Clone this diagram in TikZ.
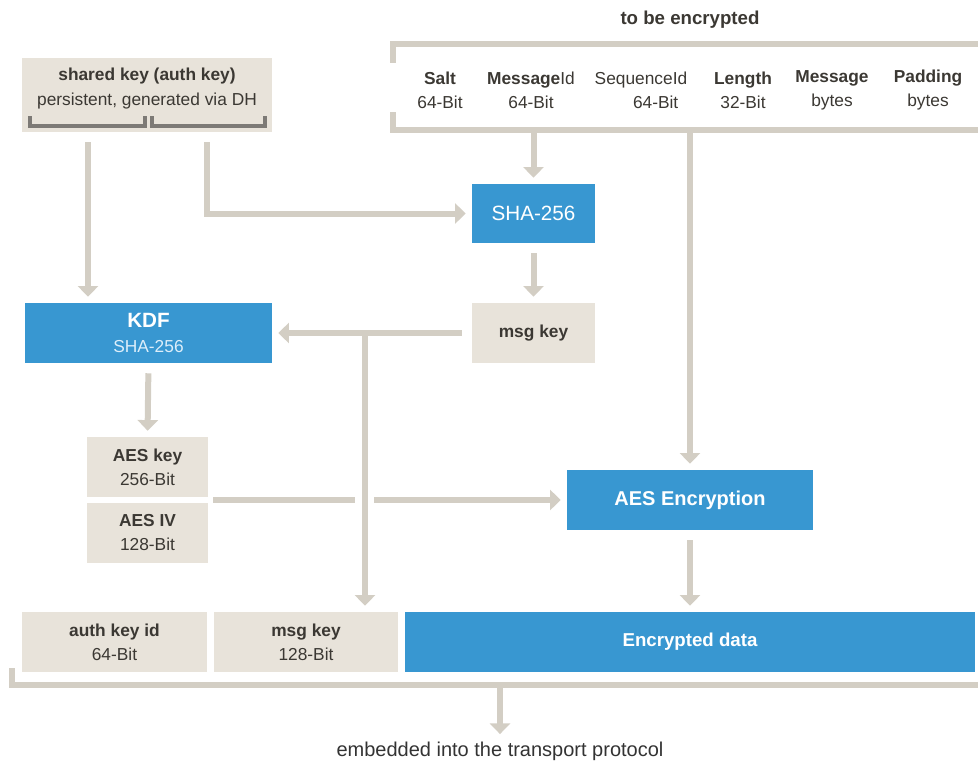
\documentclass[tikz,border=0pt]{standalone}
\usepackage{fontspec}
\setmainfont{Liberation Sans}
\usetikzlibrary{arrows.meta}
\definecolor{beige}{HTML}{E8E3DA}
\definecolor{connc}{HTML}{D3CEC4}
\definecolor{blu}{HTML}{3897D1}
\definecolor{txt}{HTML}{3B3833}
\definecolor{brk}{HTML}{7D7A76}
\definecolor{lblue}{HTML}{DCEEFA}
\begin{document}
\begin{tikzpicture}[x=0.75pt,y=-0.75pt,
  sz/.style 2 args={minimum width=#1*0.75pt, minimum height=#2*0.75pt},
  bbox/.style={fill=beige, inner sep=0pt, text=txt, align=center, font=\fontsize{13}{18}\selectfont},
  bluebox/.style={fill=blu, inner sep=0pt, text=white, align=center},
  plain/.style={inner sep=1pt, text=txt, align=center, font=\fontsize{13}{18}\selectfont},
  conn/.style={draw=connc, line width=4.5pt},
  arr/.style={conn, -{Triangle[width=15pt,length=8pt]}, shorten >=4.5pt},
  gap/.style={shorten <=7.5pt},
  bracketline/.style={draw=brk, line width=2.4pt},
]
\useasboundingbox (0,0) rectangle (978,764);

% ---------- top: to be encrypted ----------
\node[plain, font=\fontsize{14}{16}\selectfont\bfseries] (title) at (690,20) {to be encrypted};
\coordinate (tbA) at (978,44);
\coordinate (tbB) at (393,44);
\coordinate (tbC) at (393,63);
\coordinate (tbD) at (393,112);
\coordinate (tbL) at (393,130);
\coordinate (tbR) at (978,130);
\draw[conn] (tbA) -- (tbB) -- (tbC);
\draw[conn] (tbD) -- (tbL) -- (tbR);

\node[plain] (f1) at (440,90) {\textbf{Salt}\\64-Bit};
\node[plain] (f2) at (531,90) {\textbf{Message}Id\\64-Bit};
\node[plain] (f3) at (641,90) {SequenceId\\\hspace*{22pt}64-Bit};
\node[plain] (f4) at (743,90) {\textbf{Length}\\32-Bit};
\node[plain] (f5) at (832,90) {\textbf{Message}\\bytes};
\node[plain] (f6) at (928,90) {\textbf{Padding}\\bytes};

% ---------- shared key ----------
\node[bbox, sz={250}{74}] (shared) at (147,95) {};
\node[plain, font=\fontsize{13}{18.75}\selectfont] (sharedtxt) at (147,89) {\textbf{shared key (auth key)}\\persistent, generated via DH};
\coordinate (b1a) at (30,116);
\coordinate (b1b) at (30,126);
\coordinate (b1c) at (145,126);
\coordinate (b1d) at (145,116);
\coordinate (b2a) at (152,116);
\coordinate (b2b) at (152,126);
\coordinate (b2c) at (265,126);
\coordinate (b2d) at (265,116);
\draw[bracketline] (b1a) -- (b1b) -- (b1c) -- (b1d);
\draw[bracketline] (b2a) -- (b2b) -- (b2c) -- (b2d);

% ---------- boxes ----------
\node[bluebox, sz={123}{59}, font=\fontsize{15.5}{18}\selectfont] (sha) at (533.5,213.5) {SHA-256};
\node[bbox, sz={123}{60}] (msgkey) at (533.5,333) {\textbf{msg key}};
\node[bluebox, sz={247}{60}, font=\fontsize{13}{19}\selectfont] (kdf) at (148.5,333) {{\fontsize{15.5}{19}\selectfont\bfseries KDF}\\\textcolor{lblue}{SHA-256}};
\node[bbox, sz={121}{60}] (aeskey) at (147.5,467) {\textbf{AES key}\\256-Bit};
\node[bbox, sz={121}{60}] (aesiv) at (147.5,533) {\textbf{AES IV}\\128-Bit};
\node[bluebox, sz={246}{60}, font=\fontsize{15}{18}\selectfont\bfseries] (aesenc) at (690,500) {AES Encryption};
\node[bbox, sz={185}{60}] (authid) at (114.5,642) {\textbf{auth key id}\\64-Bit};
\node[bbox, sz={184}{60}] (msgkey2) at (306,642) {\textbf{msg key}\\128-Bit};
\node[bluebox, sz={570}{60}, font=\fontsize{14}{18}\selectfont\bfseries] (enc) at (690,642) {Encrypted data};

% ---------- connectors ----------
\coordinate (a1) at (88,0);
\coordinate (a2) at (207,0);
\draw[arr,gap] (shared.south -| a1) -- (kdf.north -| a1);
\draw[arr,gap] (shared.south -| a2) |- (sha.west);
\draw[arr] (sha.north |- tbL) -- (sha.north);
\draw[arr,gap] (sha.south) -- (msgkey.north);
\draw[arr,gap] (msgkey.west) -- (kdf.east);
\coordinate (j) at (365,333);
\draw[arr] (j) -- (j |- msgkey2.north);
\draw[arr,gap] (kdf.south) -- (aeskey.north);
\coordinate (ae) at (208,500);
\coordinate (cr1) at (355,500);
\coordinate (cr2) at (374,500);
\draw[conn, shorten <=4pt] (ae) -- (cr1);
\draw[arr] (cr2) -- (aesenc.west);
\draw[arr] (aesenc.north |- tbL) -- (aesenc.north);
\draw[arr,gap] (aesenc.south) -- (enc.north);

% ---------- bottom bracket ----------
\coordinate (bb1) at (12,668);
\coordinate (bb2) at (12,685);
\coordinate (bb3) at (978,685);
\coordinate (bb4) at (500,685);
\draw[conn] (bb1) -- (bb2) -- (bb3);
\node[plain, text=black!80, font=\fontsize{15}{18}\selectfont] (emb) at (500,751) {embedded into the transport protocol};
\draw[arr] (bb4) -- (emb.north);
\end{tikzpicture}
\end{document}
